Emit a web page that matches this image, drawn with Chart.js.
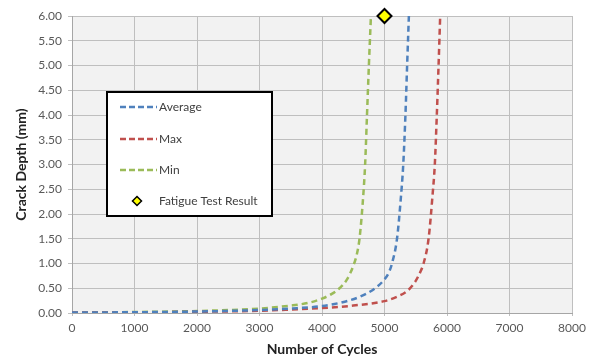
<!DOCTYPE html>
<html>
<head>
<meta charset="utf-8">
<script src="https://cdn.jsdelivr.net/npm/chart.js@4"></script>
<style>
  html, body { margin: 0; padding: 0; background: #fff; }
  #wrap { width: 595px; height: 358px; }
</style>
</head>
<body>
<div id="wrap"><canvas id="c" width="595" height="358"></canvas></div>
<script>
// Values
const avgCycles = [0, 1000, 2000, 3000, 3500, 4000, 4300, 4610, 4850, 5000, 5070, 5120, 5200, 5260, 5300, 5335, 5362, 5390];
const avgDepth  = [0.01, 0.015, 0.03, 0.06, 0.09, 0.14, 0.21, 0.33, 0.5, 0.68, 0.82, 1.0, 1.5, 2.3, 3.0, 4.0, 5.0, 6.0];

const maxCycles = [0, 1000, 2000, 3000, 3500, 4000, 4500, 5000, 5200, 5360, 5490, 5570, 5625, 5705, 5770, 5805, 5837, 5865, 5891];
const maxDepth  = [0.01, 0.012, 0.025, 0.045, 0.07, 0.1, 0.15, 0.24, 0.33, 0.44, 0.63, 0.82, 1.0, 1.5, 2.4, 3.0, 4.0, 5.0, 6.0];

const minCycles = [0, 1000, 2000, 3000, 3500, 3800, 4000, 4150, 4280, 4400, 4500, 4560, 4600, 4650, 4690, 4720, 4750, 4783];
const minDepth  = [0.01, 0.02, 0.04, 0.09, 0.15, 0.21, 0.29, 0.38, 0.5, 0.68, 0.95, 1.2, 1.5, 2.2, 3.0, 4.0, 5.0, 6.0];

const testCycles = [5000];
const testDepth  = [6.0];

const FONT = "Lato, 'Open Sans', sans-serif";

function pts(xs, ys) {
  return xs.map((x, i) => ({ x, y: ys[i] }));
}

function lineSet(label, color, xs, ys) {
  return {
    label,
    data: pts(xs, ys),
    showLine: true,
    borderColor: color,
    backgroundColor: color,
    borderWidth: 2.5,
    borderDash: [6, 4],
    pointRadius: 0,
    cubicInterpolationMode: 'monotone',
    fill: false
  };
}

// Light grey plot area
const plotBg = {
  id: 'plotBg',
  beforeDraw(chart) {
    const { ctx, chartArea: a } = chart;
    ctx.save();
    ctx.fillStyle = '#f2f2f2';
    ctx.fillRect(a.left, a.top, a.right - a.left, a.bottom - a.top);
    ctx.restore();
  }
};

// Boxed legend floating inside the plot
const boxLegend = {
  id: 'boxLegend',
  afterDraw(chart) {
    const { ctx } = chart;
    const x0 = 107, y0 = 92, w = 165, h = 124;
    ctx.save();
    ctx.fillStyle = '#fff';
    ctx.fillRect(x0, y0, w, h);
    ctx.lineWidth = 2;
    ctx.strokeStyle = '#000';
    ctx.strokeRect(x0, y0, w, h);
    ctx.font = '12px ' + FONT;
    ctx.textBaseline = 'middle';
    ctx.fillStyle = '#404040';
    const rows = [107, 139, 170, 201];
    chart.data.datasets.forEach((ds, i) => {
      const y = rows[i];
      if (ds.showLine) {
        ctx.beginPath();
        ctx.setLineDash([6, 3]);
        ctx.lineWidth = 2.5;
        ctx.strokeStyle = ds.borderColor;
        ctx.moveTo(120, y);
        ctx.lineTo(157, y);
        ctx.stroke();
        ctx.setLineDash([]);
      } else {
        ctx.beginPath();
        const cx = 137, r = 4.5;
        ctx.moveTo(cx, y - r);
        ctx.lineTo(cx + r, y);
        ctx.lineTo(cx, y + r);
        ctx.lineTo(cx - r, y);
        ctx.closePath();
        ctx.fillStyle = ds.backgroundColor;
        ctx.fill();
        ctx.lineWidth = 1.5;
        ctx.strokeStyle = '#000';
        ctx.stroke();
        ctx.fillStyle = '#404040';
      }
      ctx.fillText(ds.label, 159, y);
    });
    ctx.restore();
  }
};

new Chart(document.getElementById('c'), {
  type: 'scatter',
  data: {
    datasets: [
      lineSet('Average', '#4f81bd', avgCycles, avgDepth),
      lineSet('Max', '#c0504d', maxCycles, maxDepth),
      lineSet('Min', '#9bbb59', minCycles, minDepth),
      {
        label: 'Fatigue Test Result',
        data: pts(testCycles, testDepth),
        pointStyle: 'rectRot',
        pointRadius: 7,
        pointBackgroundColor: '#ffff00',
        pointBorderColor: '#000',
        pointBorderWidth: 2,
        backgroundColor: '#ffff00',
        clip: false
      }
    ]
  },
  plugins: [plotBg, boxLegend],
  options: {
    responsive: false,
    animation: false,
    layout: { padding: { left: 0, top: 16, right: 23, bottom: 0 } },
    plugins: {
      legend: { display: false },
      tooltip: { enabled: false }
    },
    scales: {
      x: {
        type: 'linear',
        min: 0,
        max: 8000,
        ticks: { stepSize: 1000, color: '#595959', font: { family: FONT, size: 12 }, padding: 5, callback: v => String(v) },
        grid: { color: '#bfbfbf', lineWidth: 1, tickLength: 3 },
        border: { color: '#a6a6a6' },
        title: { display: true, text: 'Number of Cycles', color: '#222', font: { family: FONT, size: 14, weight: 'bold' }, padding: { top: 3, bottom: 0 } },
        afterFit(scale) { scale.height = 45; }
      },
      y: {
        min: 0,
        max: 6,
        ticks: { stepSize: 0.5, color: '#595959', font: { family: FONT, size: 12 }, padding: 6, callback: v => v.toFixed(2) },
        grid: { color: '#bfbfbf', lineWidth: 1, tickLength: 4 },
        border: { color: '#a6a6a6' },
        title: { display: true, text: 'Crack Depth (mm)', color: '#222', font: { family: FONT, size: 14, weight: 'bold' }, padding: { top: 13, bottom: 4 } },
        afterFit(scale) { scale.width = 72; }
      }
    }
  }
});
</script>
</body>
</html>
